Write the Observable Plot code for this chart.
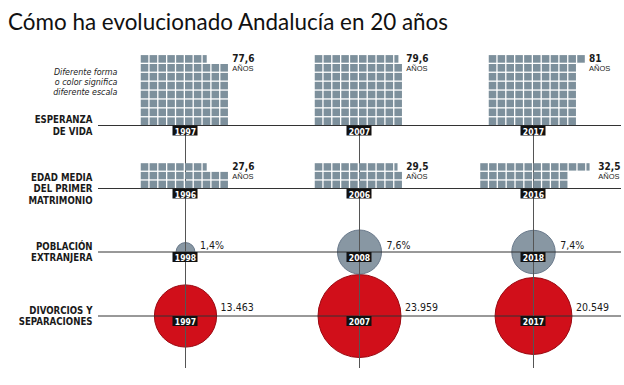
<!DOCTYPE html>
<html><head><meta charset="utf-8">
<script src="https://cdn.jsdelivr.net/npm/d3@7"></script>
<script src="https://cdn.jsdelivr.net/npm/@observablehq/plot@0.6"></script>
<style>
body{margin:0;background:#fff;width:624px;height:385px;overflow:hidden;position:relative}
#title{position:absolute;left:8px;top:9px;font-family:Lato,"Open Sans",sans-serif;font-weight:400;font-size:24px;line-height:24px;white-space:nowrap;color:#111;transform-origin:0 0}
#chart{position:absolute;left:0;top:45px}
</style></head><body>
<div id="title">Cómo ha evolucionado Andalucía en 20 años</div>
<div id="chart"></div>
<script>
// ---- data ----
const esperanzaYears = ["1997", "2007", "2017"];
const esperanzaValues = [77.6, 79.6, 81];
const matrimonioYears = ["1996", "2006", "2016"];
const matrimonioValues = [27.6, 29.5, 32.5];
const extranjeraYears = ["1998", "2008", "2018"];
const extranjeraValues = [1.4, 7.6, 7.4];
const divorciosYears = ["1997", "2007", "2017"];
const divorciosValues = [13463, 23959, 20549];
const rowLabels = ["ESPERANZA\nDE VIDA", "EDAD MEDIA\nDEL PRIMER\nMATRIMONIO", "POBLACIÓN\nEXTRANJERA", "DIVORCIOS Y\nSEPARACIONES"];
const noteText = "Diferente forma\no color significa\ndiferente escala";
const unitLabel = "AÑOS";

// ---- layout ----
const TOP = 45;
const colX = d3.scalePoint().domain([0, 1, 2]).range([185, 533]);
const rowY = [125, 188, 251.5, 315.5];
const lineX1 = 98, lineX2 = 621, vBottom = 368;
const sw = 8.85;
const esperanzaShift = [0, 0, 0];
const matrimonioShift = [0, 0, -8.5];
const esLocale = d3.formatLocale({decimal: ",", thousands: ".", grouping: [3], currency: ["", "€"]});
const fmtDec = esLocale.format("~f");
const fmtInt = esLocale.format(",d");

function unitBlocks(values, nRows, sh, lineY, shift) {
  const cells = [], labels = [];
  values.forEach((v, i) => {
    const left = colX(i) - 5 * sw + shift[i];
    for (let r = 0; r < nRows - 1; r++)
      for (let c = 0; c < 10; c++)
        cells.push({x1: left + c * sw, x2: left + (c + 1) * sw, y1: lineY - (r + 1) * sh, y2: lineY - r * sh});
    let rem = Math.round((v - (nRows - 1) * 10) * 100) / 100, c = 0;
    const topY1 = lineY - nRows * sh, topY2 = lineY - (nRows - 1) * sh;
    while (rem > 0) {
      const f = Math.min(1, rem);
      cells.push({x1: left + c * sw, x2: left + c * sw + f * sw, y1: topY1, y2: topY2});
      rem = Math.round((rem - f) * 100) / 100; c++;
    }
    const right = left + Math.max(10, c) * sw;
    labels.push({x: right + 2.5, y: topY1 + 8, text: fmtDec(v)});
    labels.push({x: right + 2.5, y: topY1 + 16.5, text: unitLabel});
  });
  return {cells, labels};
}

const b1 = unitBlocks(esperanzaValues, 8, 8.9, rowY[0], esperanzaShift);
const b2 = unitBlocks(matrimonioValues, 3, 8.7, rowY[1], matrimonioShift);
const valueLabels = [...b1.labels, ...b2.labels].filter(d => d.text !== unitLabel);
const unitLabels = [...b1.labels, ...b2.labels].filter(d => d.text === unitLabel);

const rGray = d3.scaleSqrt().domain([0, d3.max(extranjeraValues)]).range([0, 22]);
const rRed = d3.scaleSqrt().domain([0, d3.max(divorciosValues)]).range([0, 41.5]);
const grayDots = extranjeraValues.map((v, i) => ({x: colX(i), y: rowY[2], r: rGray(v), lx: colX(i) + rGray(v) + 5, ly: rowY[2] - 3.5, text: fmtDec(v) + "%"}));
const redDots = divorciosValues.map((v, i) => ({x: colX(i), y: rowY[3], r: rRed(v), lx: colX(i) + rRed(v) + 4, ly: rowY[3] - 5.5, text: fmtInt(v)}));

const yearSets = [esperanzaYears, matrimonioYears, extranjeraYears, divorciosYears];
const yearBoxes = yearSets.flatMap((ys, row) => ys.map((y, i) => ({
  x1: colX(i) - 12.5, x2: colX(i) + 12.5, y1: rowY[row] + 0.5, y2: rowY[row] + 10.5, cx: colX(i), by: rowY[row] + 9, text: y
})));

const hLines = rowY.map(y => ({y, x1: lineX1, x2: lineX2}));
const vLines = [0, 1, 2].map(i => ({x: colX(i), y1: rowY[0], y2: vBottom}));
const rowText = rowLabels.map((t, row) => {
  const n = t.split("\n").length;
  return {x: 92, y: rowY[row] + 3.5 + (n - 1) * 11.5 / 2, text: t};
});
const note = [{x: 117, y: 94, text: noteText}];

const cond = "'DejaVu Sans Condensed','DejaVu Sans',sans-serif";

const chart = Plot.plot({
  width: 624, height: 340, margin: 0,
  x: {domain: [0, 624], range: [0, 624], axis: null},
  y: {domain: [TOP, 385], range: [0, 340], axis: null},
  r: {type: "identity"},
  style: {background: "white"},
  marks: [
    Plot.dot(redDots, {x: "x", y: "y", r: "r", fill: "#d10f1a", stroke: "#9a0810", strokeWidth: 1}),
    Plot.dot(grayDots, {x: "x", y: "y", r: "r", fill: "#8897a3", stroke: "#68788a", strokeWidth: 1}),
    Plot.ruleY(hLines, {y: "y", x1: "x1", x2: "x2", stroke: "#333", strokeWidth: 1}),
    Plot.ruleX(vLines, {x: "x", y1: "y1", y2: "y2", stroke: "#555", strokeWidth: 1}),
    Plot.rect([...b1.cells, ...b2.cells], {x1: "x1", x2: "x2", y1: "y1", y2: "y2", fill: "#7d909c", insetRight: 1.3, insetTop: 1.3}),
    Plot.rect(yearBoxes, {x1: "x1", x2: "x2", y1: "y1", y2: "y2", fill: "#111"}),
    Plot.text(yearBoxes, {x: "cx", y: "by", text: "text", fill: "white", fontFamily: cond, fontWeight: "bold", fontSize: 8.5, lineAnchor: "bottom"}),
    Plot.text(rowText, {x: "x", y: "y", text: "text", textAnchor: "end", lineAnchor: "bottom", lineHeight: 11.5 / 9.6, fontFamily: cond, fontWeight: "bold", fontSize: 9.6, fill: "#1a1a1a"}),
    Plot.text(note, {x: "x", y: "y", text: "text", textAnchor: "end", lineAnchor: "bottom", lineHeight: 10 / 8.9, fontFamily: cond, fontStyle: "italic", fontSize: 8.9, fill: "#222"}),
    Plot.text(valueLabels, {x: "x", y: "y", text: "text", textAnchor: "start", lineAnchor: "bottom", fontFamily: cond, fontWeight: "bold", fontSize: 10, fill: "#1a1a1a"}),
    Plot.text(unitLabels, {x: "x", y: "y", text: "text", textAnchor: "start", lineAnchor: "bottom", fontFamily: "'Liberation Sans',Arial,sans-serif", fontSize: 7.5, fill: "#1a1a1a"}),
    Plot.text(grayDots, {x: "lx", y: "ly", text: "text", textAnchor: "start", lineAnchor: "bottom", fontFamily: cond, fontSize: 10.5, fill: "#1a1a1a"}),
    Plot.text(redDots, {x: "lx", y: "ly", text: "text", textAnchor: "start", lineAnchor: "bottom", fontFamily: cond, fontSize: 10.5, fill: "#1a1a1a"})
  ]
});
document.getElementById("chart").appendChild(chart);
const t = document.getElementById("title");
const w = t.getBoundingClientRect().width;
t.style.transform = `scaleX(${440 / w})`;
</script>
</body></html>
